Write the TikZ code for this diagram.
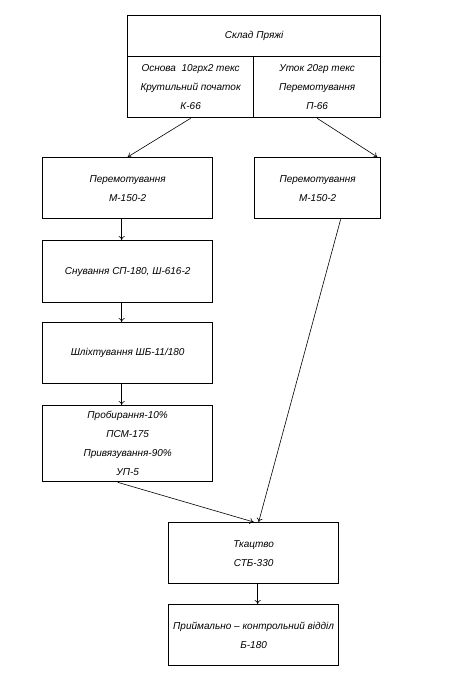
\documentclass[tikz,border=0pt]{standalone}
\usepackage{fontspec}
\setmainfont{Liberation Sans}
\usetikzlibrary{arrows.meta,calc}
\begin{document}
\begin{tikzpicture}[x=1pt,y=-1pt,
  box/.style={draw,line width=1.3pt,rectangle,anchor=north west,inner sep=0pt,align=center,
    font=\itshape\fontsize{10}{19}\selectfont},
  arr/.style={line width=0.6pt,-{To[length=4pt,width=6pt]}}]
\useasboundingbox (0,0) rectangle (465,695);
\node[box,minimum width=253pt,minimum height=41pt] (title) at (127,15) {Склад Пряжі};
\node[box,minimum width=126pt,minimum height=61pt] (cellL) at (127,56) {Основа\ \ 10грх2 текс\\Крутильний початок\\К-66};
\node[box,minimum width=127pt,minimum height=61pt] (cellR) at (253,56) {Уток 20гр текс\\Перемотування\\П-66};
\node[box,minimum width=170pt,minimum height=61pt] (p1) at (42,157) {Перемотування\\М-150-2};
\node[box,minimum width=126pt,minimum height=61pt] (p2) at (254,157) {Перемотування\\М-150-2};
\node[box,minimum width=170pt,minimum height=62pt] (sn) at (42,240) {Снування СП-180, Ш-616-2};
\node[box,minimum width=170pt,minimum height=61pt] (sh) at (42,322) {Шліхтування ШБ-11/180};
\node[box,minimum width=170pt,minimum height=76pt] (pr) at (42,405) {Пробирання-10\%\\ПСМ-175\\Привязування-90\%\\УП-5};
\node[box,minimum width=170pt,minimum height=61pt] (tk) at (168,522) {Ткацтво\\СТБ-330};
\node[box,minimum width=170pt,minimum height=61pt] (pk) at (168,604) {Приймально – контрольний відділ\\Б-180};
\draw[arr] (cellL.south) -- (p1.north);
\draw[arr] (cellR.south) -- ([xshift=-4pt]p2.north east);
\draw[arr] ([xshift=-6pt]p1.south) -- ([xshift=-6pt]sn.north);
\draw[arr] ([xshift=-6pt]sn.south) -- ([xshift=-6pt]sh.north);
\draw[arr] ([xshift=-6pt]sh.south) -- ([xshift=-6pt]pr.north);
\draw[arr] ([xshift=-10pt]pr.south) -- (tk.north);
\draw[arr] ([xshift=23pt]p2.south) -- ([xshift=5pt]tk.north);
\draw[arr] ([xshift=4pt]tk.south) -- ([xshift=4pt]pk.north);
\end{tikzpicture}
\end{document}
